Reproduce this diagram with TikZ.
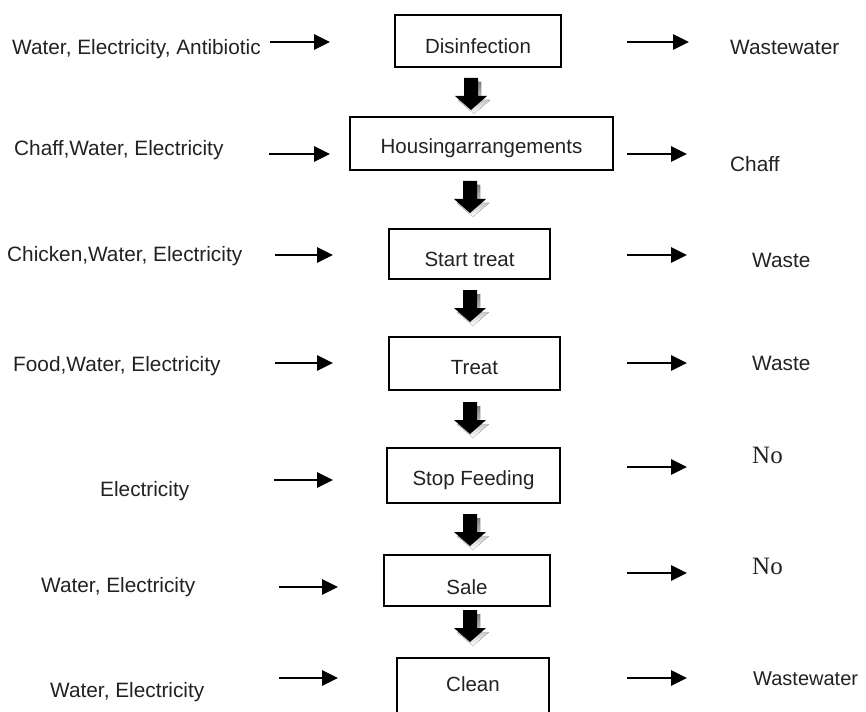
\documentclass[tikz,border=0pt]{standalone}
\usepackage{fontspec}
\setmainfont{Liberation Sans}
\newfontfamily\serifno{Liberation Serif}
\usetikzlibrary{arrows.meta}
\definecolor{txt}{HTML}{222222}
\definecolor{shade}{HTML}{B8B8B8}
\tikzset{
  stepbox/.style={draw=black, line width=1.6pt, rectangle, inner sep=0pt, text=txt,
     font=\fontsize{20.5}{24}\selectfont, text depth=0pt},
  lab/.style={anchor=west, inner sep=0pt, text=txt, font=\fontsize{20.8}{24}\selectfont,
     text height=15pt, text depth=0pt},
  nolab/.style={anchor=west, inner sep=0pt, text=txt, font=\serifno\fontsize{25}{28}\selectfont,
     text height=16.5pt, text depth=0pt},
  flow/.style={line width=2.8pt, -{Triangle[length=16pt,width=15pt]}},
  downarrow/.pic={
    \fill[shade] (-4,4) -- (10,4) -- (10,22) -- (19,22) -- (3,36) -- (-13,22) -- (-4,22) -- cycle;
    \fill[black] (-7,0) -- (7,0) -- (7,18) -- (16,18) -- (0,32) -- (-16,18) -- (-7,18) -- cycle;
  }
}
\begin{document}
\begin{tikzpicture}[x=1pt,y=-1pt]
\useasboundingbox (0,0) rectangle (866,711);
\clip (0,0) rectangle (866,711);

% process boxes
\node[stepbox, minimum width=166pt, minimum height=52pt, text height=24.8pt] (b1) at (478,41) {Disinfection};
\node[stepbox, minimum width=263pt, minimum height=53pt, text height=19.8pt] (b2) at (481.5,143.5) {Housingarrangements};
\node[stepbox, minimum width=161pt, minimum height=50pt, text height=25.8pt] (b3) at (469.5,254) {Start treat};
\node[stepbox, minimum width=171pt, minimum height=53pt, text height=22.8pt] (b4) at (474.5,363.5) {Treat};
\node[stepbox, minimum width=173pt, minimum height=55pt, text height=19.8pt] (b5) at (473.5,475.5) {Stop Feeding};
\node[stepbox, minimum width=166pt, minimum height=51pt, text height=27.8pt] (b6) at (467,580.5) {Sale};
\node[stepbox, minimum width=152pt, minimum height=64pt, text height=10pt, text depth=7pt] (b7) at (473,690) {Clean};

% block arrows between steps
\pic at (471,78) {downarrow};
\pic at (470,181) {downarrow};
\pic at (470,290) {downarrow};
\pic at (470,402) {downarrow};
\pic at (470,514) {downarrow};
\pic at (470,610) {downarrow};

% inputs
\node[lab] (i1) at (12,47.5) {Water, Electricity, Antibiotic};
\node[lab] (i2) at (14,148) {Chaff,Water, Electricity};
\node[lab] (i3) at (7,254) {Chicken,Water, Electricity};
\node[lab] (i4) at (13,363.5) {Food,Water, Electricity};
\node[lab] (i5) at (100,489) {Electricity};
\node[lab] (i6) at (41,584.5) {Water, Electricity};
\node[lab] (i7) at (50,690) {Water, Electricity};

% outputs
\node[lab] (o1) at (730,47) {Wastewater};
\node[lab] (o2) at (730,164) {Chaff};
\node[lab] (o3) at (752,260) {Waste};
\node[lab] (o4) at (752,363) {Waste};
\node[nolab] (o5) at (752,455) {No};
\node[nolab] (o6) at (752,566) {No};
\node[lab, font=\fontsize{20}{24}\selectfont] (o7) at (753,677.5) {Wastewater};

% arrow end points
\coordinate (la1) at (270,42);  \coordinate (lb1) at (330,42);
\coordinate (la2) at (269,154); \coordinate (lb2) at (330,154);
\coordinate (la3) at (275,255); \coordinate (lb3) at (333,255);
\coordinate (la4) at (275,363); \coordinate (lb4) at (333,363);
\coordinate (la5) at (274,480); \coordinate (lb5) at (333,480);
\coordinate (la6) at (279,587); \coordinate (lb6) at (338,587);
\coordinate (la7) at (279,678); \coordinate (lb7) at (338,678);

\coordinate (ra1) at (627,42);  \coordinate (rb1) at (689,42);
\coordinate (ra2) at (627,154); \coordinate (rb2) at (687,154);
\coordinate (ra3) at (627,255); \coordinate (rb3) at (687,255);
\coordinate (ra4) at (627,363); \coordinate (rb4) at (687,363);
\coordinate (ra5) at (627,467); \coordinate (rb5) at (687,467);
\coordinate (ra6) at (627,573); \coordinate (rb6) at (687,573);
\coordinate (ra7) at (627,678); \coordinate (rb7) at (687,678);

\foreach \k in {1,...,7}{
  \draw[flow] (la\k) -- (lb\k);
  \draw[flow] (ra\k) -- (rb\k);
}
\end{tikzpicture}
\end{document}
